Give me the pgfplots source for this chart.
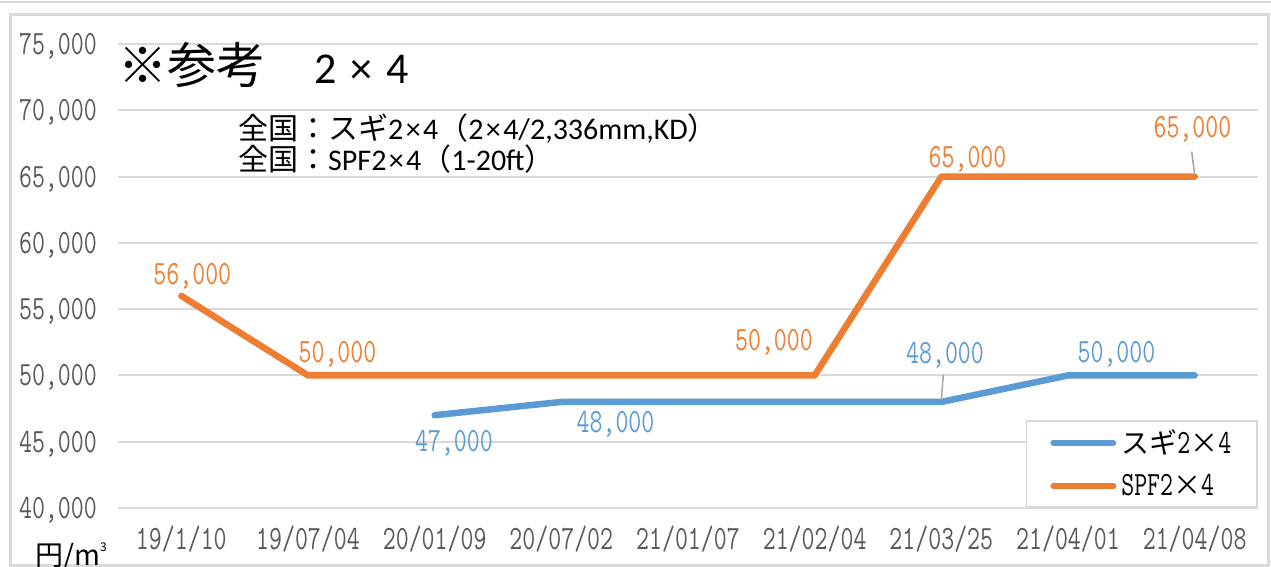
\documentclass[border=0pt]{standalone}
\usepackage{fontspec}
\usepackage{pgfplots}
\pgfplotsset{compat=1.18}
\setmainfont{Carlito}
\newfontfamily\cjk{Noto Sans CJK JP}
\newfontfamily\mincho[FakeStretch=0.74]{Latin Modern Mono}
\newcommand\numfont{\mincho\fontsize{34}{34}\selectfont}
\newcommand\tm{\hspace{0.08em}×\hspace{0.08em}}
\definecolor{sblue}{HTML}{5B9BD5}
\definecolor{sorange}{HTML}{ED7D31}
\definecolor{gridc}{HTML}{D9D9D9}
\definecolor{tickc}{HTML}{595959}
\definecolor{leadc}{HTML}{A6A6A6}
\tikzset{lab/.style={anchor=base, inner sep=0pt, font=\numfont}}
\begin{document}
\begin{tikzpicture}
\path[use as bounding box] (0pt,0pt) rectangle (1271pt,567pt);
\draw[line width=2pt, gridc] (0pt,565pt) -- (1271pt,565pt);
\draw[line width=3pt, gridc] (10pt,1pt) rectangle (1268pt,552pt);
\begin{axis}[
  at={(118pt,59pt)}, anchor=south west,
  scale only axis, width=1140pt, height=464pt,
  xmin=-0.5, xmax=8.5, ymin=40000, ymax=75000,
  scaled y ticks=false,
  axis line style={draw=none},
  major tick length=0pt,
  ytick={40000,45000,50000,55000,60000,65000,70000,75000},
  yticklabels={{40,000},{45,000},{50,000},{55,000},{60,000},{65,000},{70,000},{75,000}},
  yticklabel style={font=\numfont, text=tickc, anchor=base east, inner sep=0pt, xshift=-21pt, yshift=-10.5pt},
  xtick={0,...,8},
  xticklabels={19/1/10,19/07/04,20/01/09,20/07/02,21/01/07,21/02/04,21/03/25,21/04/01,21/04/08},
  xticklabel style={font=\numfont, text=tickc, anchor=base, inner sep=0pt, yshift=-42pt},
  ymajorgrids, major grid style={gridc, line width=2pt},
  clip=false,
  legend style={at={(1,0)}, anchor=south east, draw=gridc, line width=1.5pt, fill=white,
    inner xsep=24pt, inner ysep=0pt, row sep=0pt,
    nodes={inner sep=2pt, minimum height=43pt, anchor=west}},
  legend cell align=left,
  legend image code/.code={\draw[#1, line width=6pt, line cap=round] (0pt,0pt) -- (60pt,0pt);},
]
\addplot[sblue, line width=6.5pt, line cap=round, line join=round] coordinates {
  (2,47000) (3,48000) (4,48000) (5,48000) (6,48000) (7,50000) (8,50000)};
\addlegendentry{\hspace{3pt}{\cjk\fontsize{28}{28}\selectfont スギ}{\numfont 2}{\cjk\fontsize{28}{28}\selectfont ×}{\numfont 4}}
\addplot[sorange, line width=6.5pt, line cap=round, line join=round] coordinates {
  (0,56000) (1,50000) (2,50000) (3,50000) (4,50000) (5,50000) (6,65000) (7,65000) (8,65000)};
\addlegendentry{\hspace{3pt}{\numfont SPF2}{\cjk\fontsize{28}{28}\selectfont ×}{\numfont 4}}
% leader lines
\draw[leadc, line width=1.5pt] ([yshift=2pt]axis cs:8,65000) -- ([xshift=-3pt,yshift=25pt]axis cs:8,65000);
\draw[leadc, line width=1.5pt] ([yshift=2pt]axis cs:6,48000) -- ([xshift=2pt,yshift=27pt]axis cs:6,48000);
% data labels
\node[lab, text=sorange] at ([xshift=11pt,yshift=11pt]axis cs:0,56000) {56,000};
\node[lab, text=sorange] at ([xshift=29.5pt,yshift=13.4pt]axis cs:1,50000) {50,000};
\node[lab, text=sorange] at ([xshift=-40.7pt,yshift=25.4pt]axis cs:5,50000) {50,000};
\node[lab, text=sorange] at ([xshift=26.2pt,yshift=9.5pt]axis cs:6,65000) {65,000};
\node[lab, text=sorange] at ([xshift=-2.2pt,yshift=39.5pt]axis cs:8,65000) {65,000};
\node[lab, text=sblue] at ([xshift=19.3pt,yshift=-36.8pt]axis cs:2,47000) {47,000};
\node[lab, text=sblue] at ([xshift=54.2pt,yshift=-30.1pt]axis cs:3,48000) {48,000};
\node[lab, text=sblue] at ([xshift=3.7pt,yshift=38.9pt]axis cs:6,48000) {48,000};
\node[lab, text=sblue] at ([xshift=48.5pt,yshift=13.4pt]axis cs:7,50000) {50,000};
\end{axis}
% title and notes
\node[anchor=base west, inner sep=0pt] at (118pt,483pt) {{\cjk\fontsize{49}{49}\selectfont ※参考　}{\fontsize{44}{44}\selectfont 2\hspace{14pt}×\hspace{14pt}4}};
\node[anchor=base west, inner sep=0pt, font=\fontsize{30}{30}\selectfont] at (238pt,427pt) {{\cjk 全国：スギ}2\tm 4{\cjk （}2\tm 4/2,336mm,KD{\cjk ）}};
\node[anchor=base west, inner sep=0pt, font=\fontsize{30}{30}\selectfont] at (238pt,396pt) {{\cjk 全国：}SPF2\tm 4{\cjk （}1-20ft{\cjk ）}};
\node[anchor=base west, inner sep=0pt] at (35pt,1pt) {{\cjk\fontsize{28}{28}\selectfont 円/m}\raisebox{14pt}{\cjk\fontsize{12}{12}\selectfont 3}};
\end{tikzpicture}
\end{document}
